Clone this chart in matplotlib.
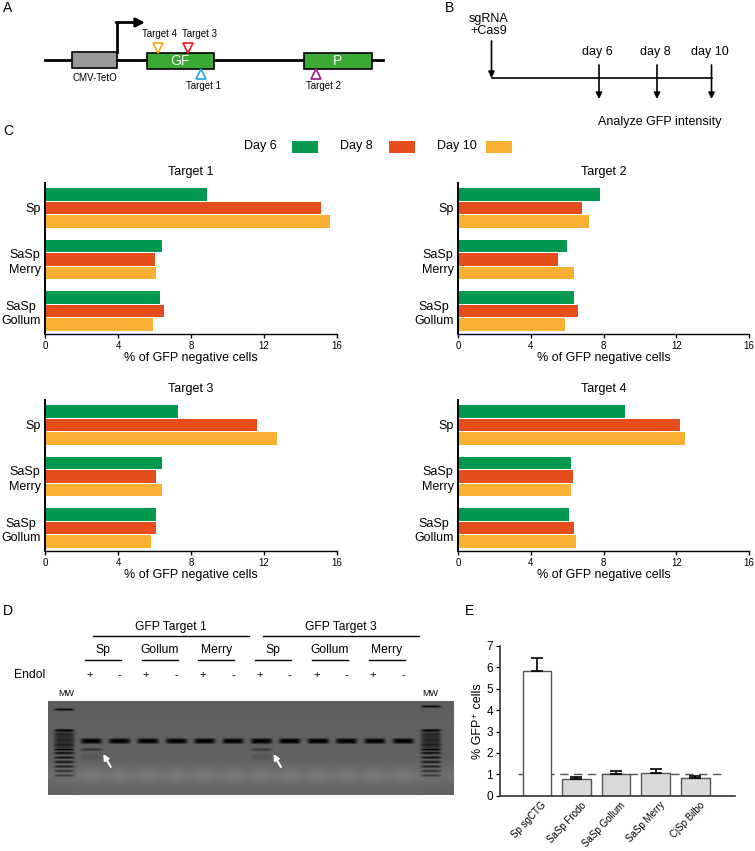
import numpy as np
import matplotlib
matplotlib.use("Agg")
import matplotlib.pyplot as plt
from matplotlib.patches import Rectangle
from matplotlib.transforms import ScaledTranslation

plt.rcParams['font.family'] = ['Liberation Sans', 'DejaVu Sans']

# ---------------- data ----------------
groups = ["Sp", "SaSp\nMerry", "SaSp\nGollum"]
days = ["Day 6", "Day 8", "Day 10"]
day_colors = ["#00994f", "#e64d1c", "#f8b033"]

t1_day6 = [8.9, 6.4, 6.3]
t1_day8 = [15.1, 6.0, 6.5]
t1_day10 = [15.6, 6.1, 5.9]
t2_day6 = [7.8, 6.0, 6.4]
t2_day8 = [6.8, 5.5, 6.6]
t2_day10 = [7.2, 6.4, 5.9]
t3_day6 = [7.3, 6.4, 6.1]
t3_day8 = [11.6, 6.1, 6.1]
t3_day10 = [12.7, 6.4, 5.8]
t4_day6 = [9.2, 6.2, 6.1]
t4_day8 = [12.2, 6.3, 6.4]
t4_day10 = [12.5, 6.2, 6.5]
x_ticks_c = [0, 4, 8, 12, 16]

e_labels = ["Sp sgCTG", "SaSp Frodo", "SaSp Gollum", "SaSp Merry", "CjSp Bilbo"]
e_values = [5.85, 0.79, 1.03, 1.05, 0.81]
e_errors = [0.60, 0.10, 0.14, 0.20, 0.12]
e_threshold = 1.0

gel_groups = ["Sp", "Gollum", "Merry", "Sp", "Gollum", "Merry"]
gel_targets = ["GFP Target 1", "GFP Target 3"]
gel_endo = ["+", "-"] * 6
gel_cleaved = [0.45, 0, 0, 0, 0, 0, 0.4, 0, 0, 0, 0, 0]

W, H = 755, 851
fig = plt.figure(figsize=(W / 100, H / 100), dpi=100)

ov = fig.add_axes([0, 0, 1, 1])
ov.set_xlim(0, W)
ov.set_ylim(H, 0)
ov.axis('off')

FS = 9

# panel letters
for lab, (x, y) in {"A": (8, 8), "B": (450, 8), "C": (8, 131), "D": (8, 611), "E": (470, 611)}.items():
    ov.text(x, y, lab, fontsize=10, ha='center', va='center')

# ---------------- Panel A ----------------
ov.plot([45, 383], [60, 60], color='k', lw=2, zorder=1)
ov.add_patch(Rectangle((72, 52), 45, 16, fc='#9a9a9a', ec='k', lw=1.2, zorder=2))
ov.add_patch(Rectangle((146.5, 52.5), 67.5, 16.5, fc='#3aaa35', ec='k', lw=1.2, zorder=2))
ov.add_patch(Rectangle((304, 52.5), 68, 16.5, fc='#3aaa35', ec='k', lw=1.2, zorder=2))
ov.text(180, 61, "GF", color='white', fontsize=10, ha='center', va='center', zorder=3)
ov.text(338, 61, "P", color='white', fontsize=10, ha='center', va='center', zorder=3)
ov.plot([117, 117], [52, 22.5], color='k', lw=2)
ov.annotate('', xy=(145, 22.5), xytext=(116, 22.5),
            arrowprops=dict(arrowstyle='-|>', lw=2, color='k', mutation_scale=13, shrinkA=0, shrinkB=0))
ov.text(95, 78, "CMV-TetO", fontsize=7, ha='center', va='center')
ov.plot([157.5], [47.5], marker='v', ms=7.5, mfc='white', mec='#f7a823', mew=1.3)
ov.plot([188], [47.5], marker='v', ms=7.5, mfc='white', mec='#e8262a', mew=1.3)
ov.plot([201], [74], marker='^', ms=7.5, mfc='white', mec='#29a9e0', mew=1.3)
ov.plot([316], [73.5], marker='^', ms=7.5, mfc='white', mec='#a2238f', mew=1.3)
ov.text(159, 34, "Target 4", fontsize=7, ha='center', va='center')
ov.text(200, 34, "Target 3", fontsize=7, ha='center', va='center')
ov.text(203, 86, "Target 1", fontsize=7, ha='center', va='center')
ov.text(323, 86, "Target 2", fontsize=7, ha='center', va='center')

# ---------------- Panel B ----------------
ov.text(489, 25, "sgRNA\n+Cas9", fontsize=FS, ha='center', va='center', linespacing=1.1)
arr = dict(arrowstyle='-|>', lw=1.2, color='k', mutation_scale=9, shrinkA=0, shrinkB=0)
ov.annotate('', xy=(491.5, 78), xytext=(491.5, 41), arrowprops=arr)
ov.plot([491.5, 711.5], [78, 78], color='k', lw=1.2)
for xd, lab in zip([599, 657, 711.5], ["day 6", "day 8", "day 10"]):
    ov.annotate('', xy=(xd, 99), xytext=(xd, 65), arrowprops=arr)
    ov.text(xd - 2, 52, lab, fontsize=FS, ha='center', va='center')
ov.text(660, 122, "Analyze GFP intensity", fontsize=FS, ha='center', va='center')

# ---------------- Panel C legend ----------------
leg_text_x = [260, 356, 457]
leg_rect_x = [292, 388.5, 486]
for tx, rx, lab, col in zip(leg_text_x, leg_rect_x, days, day_colors):
    ov.text(tx, 146, lab, fontsize=FS, ha='center', va='center')
    ov.add_patch(Rectangle((rx, 140.5), 26, 12, fc=col, ec='none'))


def bar_panel(rect, title, series):
    ax = fig.add_axes(rect)
    ax.patch.set_alpha(0)
    y = np.arange(len(groups))
    for j, (vals, col) in enumerate(zip(series, day_colors)):
        ax.barh(y + (j - 1) * 0.261, vals, height=0.238, color=col, zorder=2)
    ax.set_ylim(2.445, -0.484)
    ax.set_xlim(0, 16)
    ax.set_xticks(x_ticks_c)
    ax.set_xticklabels([str(v) for v in x_ticks_c], fontsize=7)
    ax.set_yticks(y)
    ax.set_yticklabels(groups, fontsize=FS, multialignment='center', linespacing=1.3)
    ax.tick_params(axis='y', length=0, pad=3)
    ax.tick_params(axis='x', length=3, width=1, pad=2)
    for s in ['top', 'right']:
        ax.spines[s].set_visible(False)
    ax.spines['left'].set_linewidth(1.4)
    ax.spines['bottom'].set_linewidth(1.0)
    ax.set_title(title, fontsize=FS, pad=6)
    ax.set_xlabel("% of GFP negative cells", fontsize=FS, labelpad=1)
    return ax


top_b = 1 - 334 / H
bot_b = 1 - 551 / H
hh = 151 / H
bar_panel([45 / W, top_b, 292 / W, hh], "Target 1", [t1_day6, t1_day8, t1_day10])
bar_panel([458 / W, top_b, 291 / W, hh], "Target 2", [t2_day6, t2_day8, t2_day10])
bar_panel([45 / W, bot_b, 292 / W, hh], "Target 3", [t3_day6, t3_day8, t3_day10])
bar_panel([458 / W, bot_b, 291 / W, hh], "Target 4", [t4_day6, t4_day8, t4_day10])

# ---------------- Panel D (gel) ----------------
gx0, gx1, gy0, gy1 = 48, 454, 701, 795
lane0, lane_step = 91.3, 28.36
lanes = [lane0 + i * lane_step for i in range(len(gel_endo))]

# target headers
for k, t in enumerate(gel_targets):
    xa = lanes[6 * k] + 1.5
    xb = lanes[6 * k + 5] + 16
    ov.plot([xa, xb], [636, 636], color='k', lw=1)
    ov.text((xa + xb) / 2, 627, t, fontsize=8.7, ha='center', va='center')
for g, lab in enumerate(gel_groups):
    xc = (lanes[2 * g] + lanes[2 * g + 1]) / 2 - 2.5
    ov.text(xc, 650, lab, fontsize=8.7, ha='center', va='center')
    ov.plot([xc - 18, xc + 18], [660, 660], color='k', lw=1)
ov.text(30, 675, "Endol", fontsize=8.7, ha='center', va='center')
for xl, s in zip(lanes, gel_endo):
    ov.text(xl - 2 if s == "+" else xl, 675, s, fontsize=8, ha='center', va='center')
ov.text(66, 693, "MW", fontsize=6.5, ha='center', va='center')
ov.text(430, 693, "MW", fontsize=6.5, ha='center', va='center')

gw, gh = gx1 - gx0, gy1 - gy0
yy, xx = np.mgrid[0:gh, 0:gw]
py = yy + gy0 + 0.5
px = xx + gx0 + 0.5
img = 0.37 + 0.02 * (py - gy0) / gh
img = img + 0.05 * np.exp(-((py - 775) / 9.0) ** 2)
for xl in lanes:
    img = img + 0.035 * np.exp(-((px - xl) / 11.0) ** 2) * np.exp(-((py - 776) / 9.0) ** 2)
dark = np.zeros_like(img)
for xl, c in zip(lanes, gel_cleaved):
    xprof = np.exp(-((px - xl) / 10.5) ** 6)
    dark = np.maximum(dark, 0.97 * xprof * np.exp(-((py - 741) / 2.6) ** 4))
    if c > 0:
        dark = np.maximum(dark, c * xprof * np.exp(-((py - 749.5) / 1.4) ** 2))
        dark = np.maximum(dark, 0.12 * xprof * np.exp(-((py - 757) / 3.0) ** 2))
# ladders
for xm, ytop in [(64.3, 709.5), (431, 706.5)]:
    xprof = np.exp(-((px - xm) / 10.0) ** 6)
    dark = np.maximum(dark, 0.85 * xprof * np.exp(-((py - ytop) / 1.2) ** 2))
    dark = np.maximum(dark, 0.55 * xprof * np.exp(-((py - 740) / 9.5) ** 6))
    for yb, a in zip([730.5, 735, 740, 745, 749.5, 753, 757.5, 762, 766.5, 771, 775.5],
                     [0.95, 0.7, 0.7, 0.8, 0.95, 0.85, 0.8, 0.75, 0.65, 0.55, 0.45]):
        dark = np.maximum(dark, a * xprof * np.exp(-((py - yb) / 1.3) ** 2))
img = img * (1 - dark)
ov.imshow(img, cmap='gray', vmin=0, vmax=1, extent=(gx0, gx1, gy1, gy0),
          aspect='auto', interpolation='bilinear', zorder=1)
ov.set_xlim(0, W)
ov.set_ylim(H, 0)
for xl in [lanes[0], lanes[6]]:
    ov.annotate('', xy=(xl + 12, 754), xytext=(xl + 19.5, 767),
                arrowprops=dict(arrowstyle='-|>', lw=1.5, color='white', mutation_scale=8,
                                shrinkA=0, shrinkB=0), zorder=3)

# ---------------- Panel E ----------------
axE = fig.add_axes([500 / W, 1 - 795.7 / H, 235 / W, 149.7 / H])
axE.patch.set_alpha(0)
xe = np.arange(len(e_labels))
fcs = ['white'] + ['#d9d9d9'] * (len(e_labels) - 1)
axE.bar(xe, e_values, width=0.72, color=fcs, edgecolor='#555555', lw=1, zorder=2)
axE.errorbar(xe, e_values, yerr=[[0] * len(xe), e_errors], fmt='none', ecolor='black',
             elinewidth=1.2, capsize=4.5, capthick=1.2, zorder=3)
axE.plot([-0.48, 4.75], [e_threshold, e_threshold], color='#555555', lw=1,
         ls=(0, (6, 4)), zorder=1)
axE.set_xlim(-0.93, 5.0)
axE.set_ylim(0, 7)
axE.set_yticks(range(0, 8))
axE.tick_params(axis='y', labelsize=8.5, length=3, pad=2)
axE.set_xticks(xe)
axE.set_xticklabels(e_labels, rotation=47, ha='right', rotation_mode='anchor', fontsize=7)
axE.tick_params(axis='x', length=0, pad=3)
shift = ScaledTranslation(4 / 100, 0, fig.dpi_scale_trans)
for lbl in axE.get_xticklabels():
    lbl.set_transform(lbl.get_transform() + shift)
for s in ['top', 'right']:
    axE.spines[s].set_visible(False)
axE.spines['left'].set_linewidth(1.2)
axE.spines['bottom'].set_linewidth(1.2)
axE.spines['left'].set_color('#333333')
axE.spines['bottom'].set_color('#333333')
axE.set_ylabel("% GFP\u207a cells", fontsize=FS, labelpad=2)

fig.savefig("out.png", dpi=100)
